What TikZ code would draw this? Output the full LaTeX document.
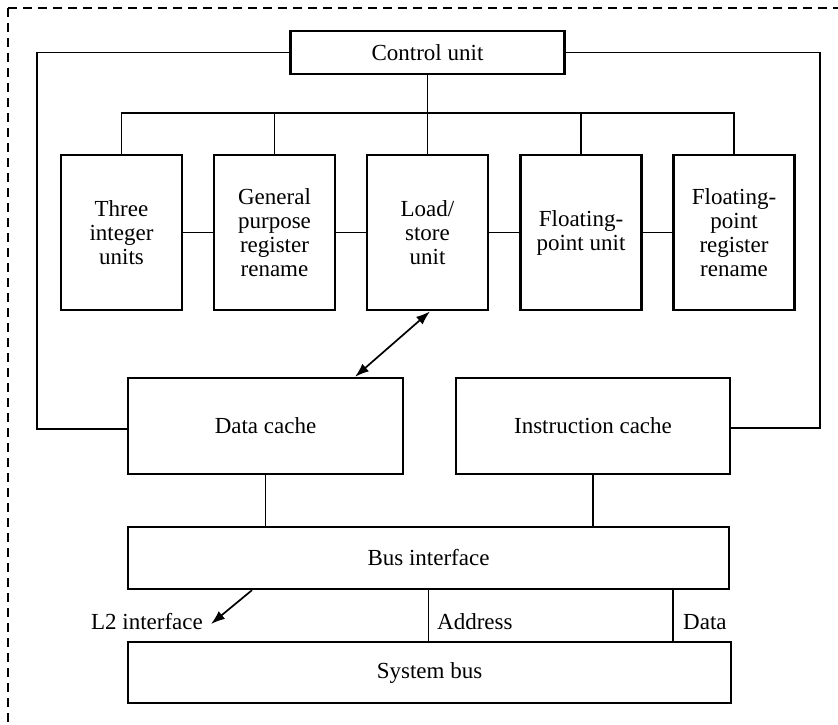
\documentclass[tikz,border=0pt]{standalone}
\usepackage{fontspec}
\setmainfont{Liberation Serif}
\usetikzlibrary{arrows.meta}
\begin{document}
\begin{tikzpicture}[x=1pt,y=-1pt,
  txt/.style={font=\fontsize{23}{24}\selectfont, align=center},
  box/.style={txt, draw, line width=2.3pt, inner sep=0pt, anchor=center},
  unitbox/.style={box, line width=2.8pt, minimum width=121pt, minimum height=155pt},
  wire/.style={line width=1.7pt},
  tip/.style={Latex[length=14pt,width=10pt]},
  arr/.style={wire, -{Latex[length=14pt,width=10pt]}},
  dbl/.style={wire, {Latex[length=14pt,width=10pt]}-{Latex[length=14pt,width=10pt]}},
  lbl/.style={txt, inner sep=0pt},
  frame/.style={line width=1.5pt, dash pattern=on 9pt off 6pt}
]
\useasboundingbox (0,0) rectangle (838,725);

% enclosing dashed frame (top and left edges)
\draw[frame] (8,8) -- (838,8);
\draw[frame] (8,8) -- (8,725);

% boxes
\node[box, minimum width=274pt, minimum height=43pt] (cu) at (427.5,52.5) {Control unit};

\node[unitbox] (iu) at (121.5,232.5) {Three\\integer\\units};
\node[unitbox] (gp) at (274.5,232.5) {General\\purpose\\register\\rename};
\node[unitbox] (ls) at (427.5,232.5) {Load/\\store\\unit};
\node[unitbox] (fp) at (581,232.5) {Floating-\\point unit};
\node[unitbox] (fr) at (734,232.5) {Floating-\\point\\register\\rename};

\node[box, minimum width=275pt, minimum height=96pt] (dc) at (265.5,426) {Data cache};
\node[box, minimum width=274pt, minimum height=96pt] (ic) at (593,426) {Instruction cache};

\node[box, minimum width=601pt, minimum height=62pt] (bi) at (428.5,558) {Bus interface};
\node[box, minimum width=603pt, minimum height=61pt] (sb) at (429.5,672.5) {System bus};

% control distribution bus
\coordinate (busy) at (0,113);
\draw[wire] (iu.north) -- (iu.north |- busy) -- (fr.north |- busy) -- (fr.north);
\draw[wire] (gp.north) -- (gp.north |- busy);
\draw[wire] (fp.north) -- (fp.north |- busy);
\draw[wire] (cu.south) -- (ls.north);

% links between execution units
\draw[wire] (iu.east) -- (gp.west);
\draw[wire] (gp.east) -- (ls.west);
\draw[wire] (ls.east) -- (fp.west);
\draw[wire] (fp.east) -- (fr.west);

% control unit to the caches
\draw[wire] (cu.west) -- (37,52.5) |- ([yshift=-3pt]dc.west);
\draw[wire] (cu.east) -- (820,52.5) |- ([yshift=-2pt]ic.east);

% load/store unit <-> data cache
\draw[dbl] ([xshift=2.5pt]ls.south) -- ([xshift=89.5pt]dc.north);

% caches to bus interface
\draw[wire] (dc.south) -- (dc.south |- bi.north);
\draw[wire] (ic.south) -- (ic.south |- bi.north);

% bus interface to system bus
\draw[wire] (bi.south) -- (bi.south |- sb.north);
\draw[wire] ([xshift=244.5pt]bi.south) -- ([xshift=244.5pt]bi.south |- sb.north);
\node[lbl, anchor=base west] (addr) at (437,629) {Address};
\node[lbl, anchor=base west] (data) at (683,629) {Data};

% L2 interface
\coordinate (l2) at (211,624);
\draw[arr] ([xshift=-176.5pt]bi.south) -- (l2);
\node[lbl, anchor=base east] (l2lbl) at (203,629) {L2 interface};
\end{tikzpicture}
\end{document}
